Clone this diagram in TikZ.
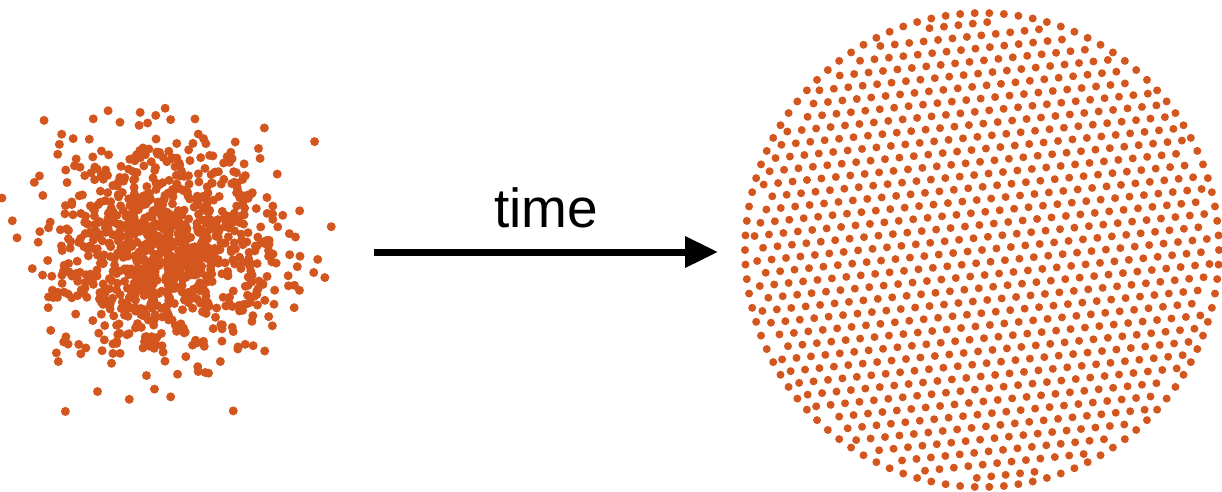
\documentclass[tikz,border=0pt]{standalone}
\usepackage{fontspec}
\setmainfont{Liberation Sans}
\usetikzlibrary{arrows.meta,positioning,calc}
\definecolor{dotorange}{HTML}{D4561F}
\tikzset{
  cloudot/.style={fill=dotorange,draw=none},
  flow/.style={-{Triangle[length=33pt,width=30pt]},line width=7pt,draw=black},
  flowlabel/.style={font=\fontsize{55}{60}\selectfont,inner sep=0pt,anchor=base}
}
\begin{document}
\begin{tikzpicture}[x=1pt,y=-1pt]
  \useasboundingbox (0,0) rectangle (1222,491);
  \coordinate (cloud) at (165,250);
  \coordinate (disk) at (982,250);
  \coordinate (tail) at (374,252);
  \coordinate (head) at (718,252);

  % gaussian cloud
  \pgfmathsetseed{4242}
  \foreach \k in {1,...,1000}{
    \pgfmathsetmacro\ru{0.001+0.999*rnd}
    \pgfmathsetmacro\th{360*rnd}
    \pgfmathsetmacro\rr{52*sqrt(-2*ln(\ru))}
    \fill[cloudot] ($(cloud)+({1.05*\rr*cos(\th)},{\rr*sin(\th)})$) circle[radius=4.5];
  }

  % packed disk: hex lattice inside, one ring on the rim
  \begin{scope}[shift={(disk)},rotate=6]
    \foreach \j in {-19,...,19}{
      \foreach \i in {-17,...,17}{
        \pgfmathsetmacro\dx{14.5*(\i+0.5*mod(abs(\j),2))}
        \pgfmathsetmacro\dy{12.56*\j}
        \pgfmathparse{(\dx/10)*(\dx/10)+(\dy/10)*(\dy/10)<519.8 ? 1 : 0}
        \ifnum\pgfmathresult=1
          \fill[cloudot] (\dx,\dy) circle[radius=4];
        \fi
      }
    }
  \end{scope}
  \foreach \k in {1,...,102}{
    \fill[cloudot] ($(disk)+({(360/102)*\k}:237)$) circle[radius=4];
  }

  \draw[flow] (tail) -- node[flowlabel,yshift=25pt] (timelabel) {time} (head);
\end{tikzpicture}
\end{document}
